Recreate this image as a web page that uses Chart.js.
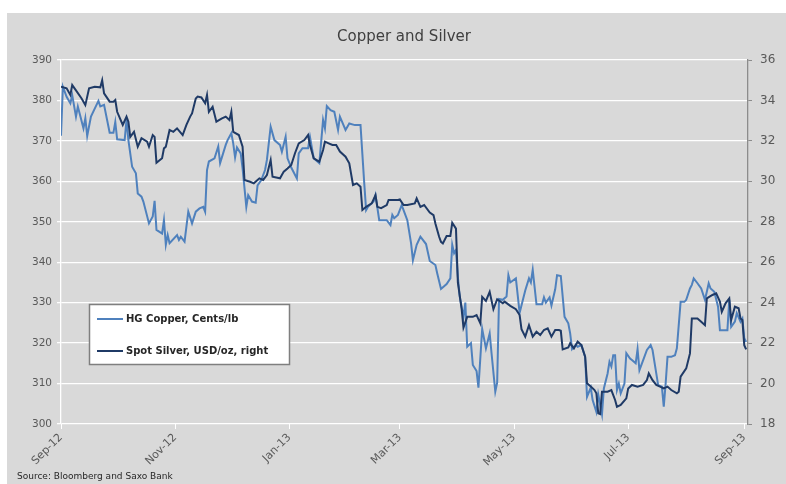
<!DOCTYPE html>
<html><head><meta charset="utf-8">
<script src="https://cdn.jsdelivr.net/npm/chart.js@4.4.0/dist/chart.umd.min.js"></script>
<style>html,body{margin:0;padding:0;background:#fff;}#wrap{width:786px;height:484px;position:relative;}canvas{display:block;}</style>
</head><body><div id="wrap"><canvas id="c" width="786" height="484"></canvas></div>
<script>
// x values are days since 1 Sep 2012
const tickDays = [0, 61, 122, 181, 242, 303, 365];
const tickLabels = ['Sep-12', 'Nov-12', 'Jan-13', 'Mar-13', 'May-13', 'Jul-13', 'Sep-13'];
const seriesLabels = ['HG Copper, Cents/lb', 'Spot Silver, USD/oz, right'];
const titleText = 'Copper and Silver';
const sourceText = 'Source: Bloomberg and Saxo Bank';

const copperDays = [0,1,3,5,6,8,9,12,13,14,16,20,21,23,26,28,29,30,34,35,36,38,40,41,43,44,47,49,50,51,54,55,56,57,58,62,63,64,66,68,70,72,74,76,77,78,79,82,84,85,88,89,91,92,93,94,96,97,99,100,102,104,105,107,109,110,112,114,117,118,120,121,123,126,127,129,132,133,135,138,140,141,142,144,146,148,149,152,154,157,160,162,163,164,167,168,170,174,176,177,178,180,182,183,185,187,188,190,192,195,197,200,201,203,206,208,209,210,211,212,213,215,216,217,219,220,222,223,225,227,229,230,232,233,234,236,238,239,240,243,245,248,250,251,252,254,257,258,259,261,262,264,265,267,269,271,272,273,275,276,278,280,281,283,284,286,287,289,290,292,293,294,295,296,297,298,299,301,302,304,305,307,308,309,311,313,315,316,318,319,321,322,323,324,326,328,329,331,333,334,336,337,338,340,342,344,345,346,347,349,351,352,356,357,358,360,361,363,364,365,366];
const copperValues = [371.3,383.4,380.9,379.3,381.3,376.0,378.5,373.1,375.6,371.2,376.0,379.9,378.5,378.9,372.0,372.0,374.7,370.4,370.2,375.2,370.2,363.6,362.0,357.0,356.2,355.0,349.6,351.3,355.2,348.0,347.1,350.4,344.3,346.7,344.7,346.7,345.5,346.3,345.1,352.5,349.6,352.5,353.3,353.7,352.5,362.8,364.9,365.7,368.6,364.5,369.0,370.2,371.9,369.4,365.9,368.4,366.9,363.2,353.7,356.6,355.0,354.7,359.0,360.3,362.8,365.3,373.5,370.2,369.0,367.3,371.0,365.7,363.4,360.7,366.9,368.2,368.2,371.0,365.7,364.5,375.2,373.1,378.6,377.6,377.2,372.7,376.0,372.7,374.3,373.9,373.9,359.5,352.9,353.7,355.0,356.6,350.4,350.4,349.2,351.7,350.9,351.7,354.1,352.9,350.4,344.7,340.5,344.3,346.3,344.5,340.3,339.3,337.2,333.4,334.6,336.0,344.3,342.2,343.0,336.4,331.5,326.5,330.0,319.1,320.0,314.6,313.1,309.0,323.5,318.7,322.4,317.5,308.0,310.2,330.9,330.7,331.5,336.8,335.0,336.0,327.5,333.0,336.0,335.0,338.1,329.6,329.6,331.3,330.0,331.3,329.3,333.3,336.8,336.6,326.5,324.9,322.4,318.5,319.6,319.1,319.5,316.6,306.7,309.0,305.9,303.0,307.3,302.4,308.8,312.5,315.4,314.2,317.0,317.0,308.4,310.0,307.6,310.0,317.5,316.2,315.8,315.0,318.5,313.3,315.8,318.3,319.5,318.3,312.5,309.6,309.2,304.3,310.0,316.6,316.6,317.0,318.7,330.2,330.2,330.7,333.5,334.4,336.0,334.8,333.5,330.7,332.7,334.8,333.5,332.7,329.0,323.2,323.2,330.7,324.0,325.3,327.4,325.3,326.1,321.2,320.3];

const silverDays = [0,3,5,6,8,11,13,15,18,21,22,23,26,28,29,30,33,35,36,37,39,41,43,46,47,49,50,51,54,55,56,58,60,62,65,67,69,70,72,73,75,77,78,79,81,83,86,88,90,91,92,95,97,98,101,103,106,108,110,112,113,117,119,121,123,125,127,130,132,133,135,138,140,141,143,145,147,149,152,153,154,156,158,160,161,163,166,168,169,171,174,175,178,180,181,183,185,189,190,192,194,197,199,200,202,203,204,206,208,209,211,212,214,215,217,220,222,224,225,227,229,231,233,236,237,240,243,245,246,248,250,252,254,256,258,260,262,264,266,267,268,271,272,274,276,278,280,281,283,285,286,287,288,289,292,294,296,297,299,302,303,305,308,311,313,314,316,318,320,322,324,326,329,330,331,334,336,337,340,342,344,345,348,350,352,353,355,357,358,360,362,363,364,365,366];
const silverValues = [34.68,34.60,34.27,34.76,34.50,34.10,33.77,34.60,34.68,34.65,35.00,34.35,33.94,33.94,34.02,33.44,32.79,33.20,32.95,32.20,32.45,31.71,32.13,31.96,31.71,32.29,32.20,30.92,31.14,31.63,31.71,32.54,32.45,32.62,32.29,32.79,33.20,33.36,34.10,34.19,34.15,33.86,34.27,33.44,33.69,32.95,33.11,33.20,33.03,33.44,32.45,32.29,31.71,30.07,29.98,29.90,30.15,30.07,30.31,31.05,30.23,30.15,30.48,30.64,30.81,31.39,31.88,32.04,32.29,31.80,31.14,30.97,31.55,31.96,31.88,31.80,31.80,31.47,31.22,31.05,30.89,29.82,29.90,29.73,28.58,28.74,28.91,29.32,28.74,28.67,28.83,29.08,29.08,29.08,29.11,28.83,28.83,28.91,29.16,28.74,28.83,28.46,28.33,27.92,27.26,27.01,26.93,27.30,27.30,27.95,27.66,25.00,23.70,22.77,23.30,23.30,23.39,22.98,24.29,24.09,24.54,23.68,24.17,23.97,24.05,23.84,23.68,23.39,22.69,22.32,22.89,22.32,22.56,22.40,22.65,22.73,22.32,22.65,22.65,22.61,21.69,21.79,21.99,21.74,22.07,21.90,21.33,20.01,19.85,19.68,19.52,18.53,18.49,19.60,19.60,19.68,19.19,18.85,18.94,19.27,19.76,19.93,19.85,19.93,20.17,20.50,20.17,19.93,19.85,19.76,19.85,19.68,19.52,19.60,20.34,20.75,21.49,23.22,23.22,23.06,22.89,24.21,24.38,24.46,24.05,23.55,23.97,24.21,23.14,23.80,23.72,23.22,23.14,21.90,21.69];

const FONT = 'DejaVu Sans';
const copperColor = '#4f81bd';
const silverColor = '#1f3a66';

const decor = {
  id: 'decor',
  beforeDraw(chart) {
    const ctx = chart.ctx;
    ctx.save();
    ctx.fillStyle = '#ffffff';
    ctx.fillRect(0, 0, chart.width, chart.height);
    ctx.fillStyle = '#d9d9d9';
    ctx.fillRect(7, 13, chart.width - 7, chart.height - 13);
    ctx.restore();
  },
  afterDraw(chart) {
    const ctx = chart.ctx;
    ctx.save();
    ctx.fillStyle = '#404040';
    ctx.font = '15px "' + FONT + '"';
    ctx.textAlign = 'center';
    ctx.textBaseline = 'middle';
    ctx.fillText(titleText, 404, 37);
    ctx.fillStyle = '#262626';
    ctx.font = '9px "' + FONT + '"';
    ctx.textAlign = 'left';
    ctx.fillText(sourceText, 17, 477);
    // legend box
    ctx.fillStyle = '#ffffff';
    ctx.fillRect(89.5, 304.5, 200, 60);
    ctx.strokeStyle = '#7f7f7f';
    ctx.lineWidth = 1.5;
    ctx.strokeRect(89.5, 304.5, 200, 60);
    const ys = [319, 351];
    chart.data.datasets.forEach((ds, i) => {
      ctx.strokeStyle = ds.borderColor;
      ctx.lineWidth = 2;
      ctx.beginPath();
      ctx.moveTo(97, ys[i]);
      ctx.lineTo(123, ys[i]);
      ctx.stroke();
      ctx.fillStyle = '#262626';
      ctx.font = 'bold 10px "' + FONT + '"';
      ctx.textAlign = 'left';
      ctx.textBaseline = 'middle';
      ctx.fillText(ds.label, 126, ys[i]);
    });
    ctx.restore();
  }
};

new Chart(document.getElementById('c'), {
  type: 'line',
  data: {
    datasets: [
      { label: seriesLabels[0], data: copperDays.map((d, i) => ({ x: d, y: copperValues[i] })), borderColor: copperColor, backgroundColor: copperColor, borderWidth: 2, pointRadius: 0, tension: 0, yAxisID: 'y', order: 2 },
      { label: seriesLabels[1], data: silverDays.map((d, i) => ({ x: d, y: silverValues[i] })), borderColor: silverColor, backgroundColor: silverColor, borderWidth: 2, pointRadius: 0, tension: 0, yAxisID: 'y2', order: 1 }
    ]
  },
  options: {
    responsive: false,
    devicePixelRatio: 1,
    animation: false,
    layout: { padding: { left: 7, right: 0, top: 60, bottom: 0 } },
    plugins: { legend: { display: false }, tooltip: { enabled: false }, title: { display: false } },
    scales: {
      x: {
        type: 'linear', min: 0, max: 367,
        afterBuildTicks: s => { s.ticks = tickDays.map(v => ({ value: v })); },
        ticks: { autoSkip: false, maxRotation: 45, minRotation: 45, color: '#595959', font: { family: FONT, size: 11 }, padding: 2,
          callback: v => { const i = tickDays.indexOf(v); return i >= 0 ? tickLabels[i] : ''; } },
        grid: { drawOnChartArea: false, tickColor: '#ffffff', tickLength: 5 },
        border: { display: false },
        afterFit: s => { s.height = 60; }
      },
      y: {
        position: 'left', min: 300, max: 390,
        ticks: { stepSize: 10, color: '#595959', font: { family: FONT, size: 10.5 }, padding: 5 },
        grid: { color: '#ffffff', lineWidth: 1.3, tickColor: '#ffffff', tickLength: 4 },
        border: { color: '#ffffff', width: 1.3 },
        afterFit: s => { s.width = 54; }
      },
      y2: {
        position: 'right', min: 18, max: 36,
        ticks: { stepSize: 2, color: '#595959', font: { family: FONT, size: 12 }, padding: 8 },
        grid: { drawOnChartArea: false, tickColor: '#8c8c8c', tickLength: 4 },
        border: { color: '#8c8c8c', width: 1.3 },
        afterFit: s => { s.width = 38; }
      }
    }
  },
  plugins: [decor]
});
</script></body></html>
